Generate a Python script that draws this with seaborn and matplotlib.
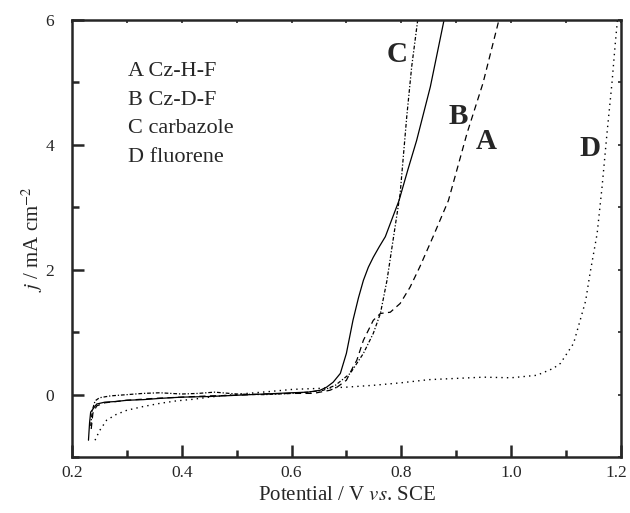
import matplotlib
matplotlib.use("Agg")
import matplotlib.pyplot as plt
import matplotlib.transforms as mtransforms
import seaborn as sns
from matplotlib.ticker import MultipleLocator

# curve A (dashed)
a_x = [0.235, 0.238, 0.245, 0.26, 0.28, 0.30, 0.35, 0.40, 0.45, 0.50, 0.55, 0.60, 0.64,
       0.67, 0.683, 0.70, 0.712, 0.719, 0.731, 0.749, 0.762, 0.78, 0.798, 0.816, 0.834,
       0.858, 0.886, 0.92, 0.949, 0.978]
a_y = [-0.55, -0.30, -0.18, -0.13, -0.11, -0.09, -0.06, -0.04, -0.02, -0.01, 0.01, 0.02, 0.02,
       0.07, 0.12, 0.23, 0.44, 0.55, 0.87, 1.19, 1.30, 1.32, 1.46, 1.72, 2.05,
       2.53, 3.11, 4.19, 4.99, 6.0]

# curve B (solid)
b_x = [0.230, 0.232, 0.234, 0.245, 0.26, 0.28, 0.30, 0.33, 0.36, 0.40, 0.45, 0.50, 0.55,
       0.60, 0.63, 0.652, 0.664, 0.676, 0.689, 0.70, 0.712, 0.722, 0.731, 0.740, 0.749,
       0.760, 0.771, 0.78, 0.796, 0.812, 0.828, 0.853, 0.878]
b_y = [-0.73, -0.45, -0.28, -0.15, -0.12, -0.11, -0.09, -0.08, -0.06, -0.04, -0.03, -0.01, 0.01,
       0.03, 0.04, 0.07, 0.12, 0.20, 0.34, 0.66, 1.19, 1.55, 1.83, 2.04, 2.20,
       2.37, 2.53, 2.74, 3.11, 3.60, 4.07, 4.93, 6.0]

# curve C (dash-dot), carbazole
c_x = [0.234, 0.237, 0.242, 0.25, 0.27, 0.30, 0.33, 0.36, 0.40, 0.43, 0.46, 0.50, 0.55,
       0.60, 0.63, 0.658, 0.68, 0.707, 0.731, 0.749, 0.762, 0.774, 0.785, 0.798, 0.81,
       0.819, 0.83]
c_y = [-0.50, -0.25, -0.10, -0.05, -0.02, 0.00, 0.02, 0.03, 0.01, 0.02, 0.04, 0.01, 0.0,
       0.02, 0.04, 0.07, 0.15, 0.34, 0.66, 0.98, 1.30, 1.83, 2.47, 3.22, 4.45,
       5.25, 6.0]

# curve D (dotted), fluorene
d_x = [0.242, 0.25, 0.263, 0.28, 0.30, 0.33, 0.36, 0.39, 0.42, 0.45, 0.482, 0.52, 0.56,
       0.603, 0.65, 0.70, 0.75, 0.80, 0.85, 0.90, 0.95, 1.00, 1.047, 1.077, 1.09,
       1.102, 1.114, 1.126, 1.136, 1.144, 1.157, 1.166, 1.175, 1.184, 1.19, 1.194]
d_y = [-0.73, -0.58, -0.41, -0.32, -0.25, -0.19, -0.14, -0.10, -0.075, -0.04, -0.01, 0.02, 0.05,
       0.085, 0.10, 0.12, 0.15, 0.19, 0.24, 0.26, 0.28, 0.27, 0.31, 0.42, 0.50,
       0.66, 0.82, 1.19, 1.50, 1.94, 2.58, 3.33, 4.19, 4.99, 5.62, 6.0]

legend_lines = ["A Cz-H-F", "B Cz-D-F", "C carbazole", "D fluorene"]

sns.set_style("ticks")
plt.rcParams['font.family'] = ['Liberation Serif', 'DejaVu Serif']
plt.rcParams['mathtext.fontset'] = 'stix'

fig = plt.figure(figsize=(6.3, 5.13), dpi=100)
ax = fig.add_axes([0.1143, 0.109, 0.871, 0.852])

sns.lineplot(x=a_x, y=a_y, sort=False, color='black', lw=0.9, ax=ax, linestyle=(0, (5, 3.5)))
sns.lineplot(x=b_x, y=b_y, sort=False, color='black', lw=0.9, ax=ax)
sns.lineplot(x=c_x, y=c_y, sort=False, color='black', lw=0.9, ax=ax,
             linestyle=(0, (3, 1.5, 1, 1.5)))
sns.lineplot(x=d_x, y=d_y, sort=False, color='black', lw=1.0, ax=ax, linestyle=(0, (1, 3)))

ax.set_xlim(0.2, 1.2)
ax.set_ylim(-1, 6)
ax.xaxis.set_major_locator(MultipleLocator(0.2))
ax.xaxis.set_minor_locator(MultipleLocator(0.1))
ax.yaxis.set_major_locator(MultipleLocator(2))
ax.yaxis.set_minor_locator(MultipleLocator(1))
ax.set_xticks([0.2, 0.4, 0.6, 0.8, 1.0, 1.2])
ax.set_xticklabels(["0.2", "0.4", "0.6", "0.8", "1.0", "1.2"])
ax.set_yticks([0, 2, 4, 6])

for s in ax.spines.values():
    s.set_linewidth(1.8)
ax.tick_params(which='major', direction='in', length=8.5, width=1.8, labelsize=12.5,
               top=False, right=False, pad=6)
ax.tick_params(axis='y', which='major', pad=13)
ax.tick_params(which='minor', direction='in', length=5, width=1.8, top=False, right=False)
# nudge the last x label so it stays inside the figure
last = ax.get_xticklabels()[-1]
last.set_transform(last.get_transform() + mtransforms.ScaledTranslation(-3 / 72, 0, fig.dpi_scale_trans))

# small ticks on top and right
sec_x = ax.secondary_xaxis('top')
sec_x.xaxis.set_major_locator(MultipleLocator(0.1))
sec_x.tick_params(direction='in', length=2.5, width=1.2, labeltop=False)
sec_x.spines['top'].set_visible(False)
sec_y = ax.secondary_yaxis('right')
sec_y.yaxis.set_major_locator(MultipleLocator(1))
sec_y.tick_params(direction='in', length=2.5, width=1.2, labelright=False)
sec_y.spines['right'].set_visible(False)

ax.set_xlabel("Potential / V $\\it{vs}$. SCE", fontsize=15, labelpad=3)
ax.set_ylabel("$j$ / mA cm$^{-2}$", fontsize=15, labelpad=0)

for i, t in enumerate(legend_lines):
    ax.text(0.302, 5.17 - i * 0.455, t, fontsize=16, va='center', ha='left')

ax.text(0.792, 5.44, "C", fontsize=21, fontweight='bold', ha='center', va='center')
ax.text(0.904, 4.45, "B", fontsize=21, fontweight='bold', ha='center', va='center')
ax.text(0.954, 4.05, "A", fontsize=21, fontweight='bold', ha='center', va='center')
ax.text(1.144, 3.95, "D", fontsize=21, fontweight='bold', ha='center', va='center')

fig.savefig("out.png", dpi=100)
